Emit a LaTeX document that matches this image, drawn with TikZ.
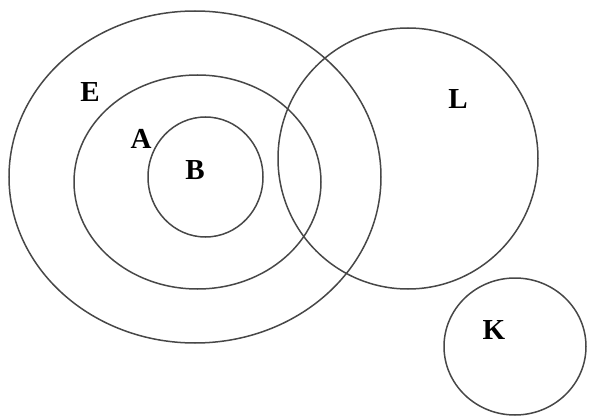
\documentclass[tikz,border=0pt]{standalone}
\usepackage{fontspec}
\setmainfont{Liberation Serif}
\begin{document}
\begin{tikzpicture}[x=1pt,y=-1pt,
  ring/.style={draw=black!72,line width=1.5pt},
  lbl/.style={font=\fontsize{29}{29}\selectfont\bfseries,text=black,inner sep=0pt}]
\useasboundingbox (0,0) rectangle (590,420);
\draw[ring] (195,177) ellipse [x radius=186,y radius=166];
\draw[ring] (197.5,182) ellipse [x radius=123.5,y radius=107];
\draw[ring] (205.5,177) ellipse [x radius=57.5,y radius=60];
\draw[ring] (408,158.5) ellipse [x radius=130,y radius=130.5];
\draw[ring] (515,346.5) ellipse [x radius=71,y radius=68.5];
\node[lbl] (E) at (90,92) {E};
\node[lbl] (A) at (141,139) {A};
\node[lbl] (B) at (195,170) {B};
\node[lbl] (L) at (458,99) {L};
\node[lbl] (K) at (494,330) {K};
\end{tikzpicture}
\end{document}
